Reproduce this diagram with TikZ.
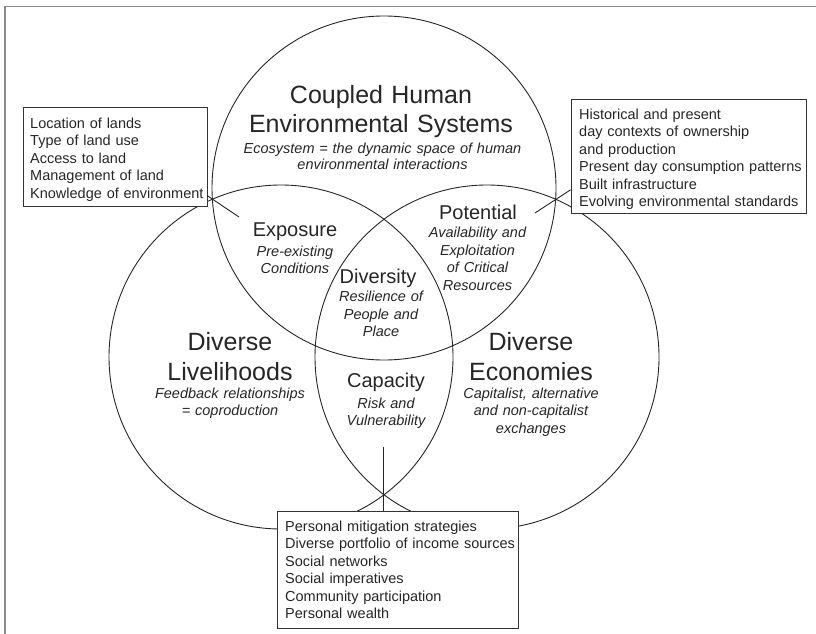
\documentclass[tikz,border=0pt]{standalone}
\usepackage{fontspec}
\setmainfont{Liberation Sans}
\definecolor{txt}{HTML}{262626}
\definecolor{framec}{HTML}{8A8A8A}
\begin{document}
\begin{tikzpicture}[x=1pt,y=-1pt,
  circ/.style={circle, draw=black!85, line width=0.9pt, minimum size=344pt, inner sep=0pt},
  boxnode/.style={draw=black!80, line width=0.9pt, fill=white, inner sep=0pt},
  boxtext/.style={font=\fontsize{14.5}{17.5}\selectfont, text=txt, align=left, text width=#1, inner sep=0pt, anchor=base west},
  bigtext/.style={font=\fontsize{25}{29.5}\selectfont, text=txt, align=center, text width=#1, inner sep=0pt, anchor=base},
  midtext/.style={font=\fontsize{20}{24}\selectfont, text=txt, inner sep=0pt, anchor=base},
  subtext/.style={font=\itshape\fontsize{14.5}{17.5}\selectfont, text=txt, align=center, text width=#1, inner sep=0pt, anchor=base},
  conn/.style={draw=black!85, line width=0.9pt}]
\useasboundingbox (0,0) rectangle (816,634);
\fill[white] (0,0) rectangle (816,634);
\draw[framec, line width=1.5pt] (5,634) -- (5,6.5) -- (816,6.5);

% circles
\node[circ] (ctop) at (384,188) {};
\node[circ] (cleft) at (281,357) {};
\node[circ] (cright) at (487,357) {};

% boxes
\node[boxnode, minimum width=184pt, minimum height=99pt] (lb) at (115,156.5) {};
\node[boxnode, minimum width=235pt, minimum height=114pt] (rb) at (688.5,156) {};
\node[boxnode, minimum width=241pt, minimum height=117pt] (bb) at (397.5,569.5) {};

% connectors
\coordinate (lend) at (239,217);
\coordinate (rend) at (535,213);
\coordinate (bend) at (383,447);
\draw[conn] (lb.-23.2) -- (lend);
\draw[conn] (rb.196.5) -- (rend);
\draw[conn] (bb.north -| bend) -- (bend);

% box texts
\node[boxtext=180pt] (lbt) at (30,128) {Location of lands\\Type of land use\\Access to land\\Management of land\\Knowledge of environment};
\node[boxtext=226pt] (rbt) at (579,119) {Historical and present\\day contexts of ownership\\and production\\Present day consumption patterns\\Built infrastructure\\Evolving environmental standards};
\node[boxtext=232pt] (bbt) at (285,531) {Personal mitigation strategies\\Diverse portfolio of income sources\\Social networks\\Social imperatives\\Community participation\\Personal wealth};

% circle texts
\node[bigtext=320pt] (title) at (381,103) {Coupled Human\\Environmental Systems};
\node[subtext=320pt, font=\itshape\fontsize{14.5}{16.5}\selectfont] (eco) at (382.5,153) {Ecosystem = the dynamic space of human\\environmental interactions};

\node[midtext] (expo) at (295,236.5) {Exposure};
\node[subtext=120pt, font=\itshape\fontsize{14.5}{17}\selectfont] (expos) at (295,256) {Pre-existing\\Conditions};

\node[midtext] (pot) at (478,219) {Potential};
\node[subtext=130pt] (pots) at (477.5,237.5) {Availability and\\Exploitation\\of Critical\\Resources};

\node[midtext] (div) at (378,283) {Diversity};
\node[subtext=120pt] (divs) at (381,301.5) {Resilience of\\People and\\Place};

\node[midtext] (cap) at (386,387) {Capacity};
\node[subtext=120pt] (caps) at (386,408) {Risk and\\Vulnerability};

\node[bigtext=200pt, font=\fontsize{25}{30}\selectfont] (liv) at (230,350) {Diverse\\Livelihoods};
\node[subtext=180pt] (livs) at (230,398.3) {Feedback relationships\\= coproduction};

\node[bigtext=200pt, font=\fontsize{25}{30}\selectfont] (eco2) at (531,350) {Diverse\\Economies};
\node[subtext=180pt] (ecos) at (531,398.3) {Capitalist, alternative\\and non-capitalist\\exchanges};
\end{tikzpicture}
\end{document}
